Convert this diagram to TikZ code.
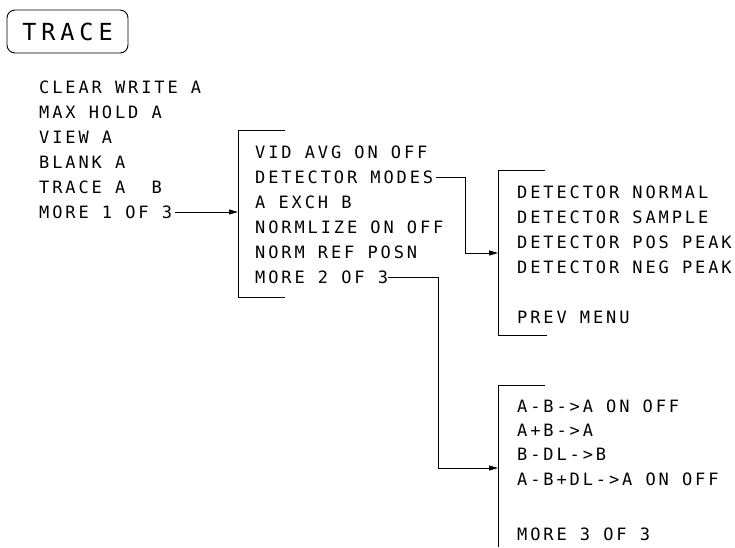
\documentclass[tikz,border=0pt]{standalone}
\usepackage{fontspec}
\usepackage{tikz}
\usetikzlibrary{arrows.meta,positioning,calc}
\newfontfamily\menufont[LetterSpace=17]{DejaVu Sans Mono}
\newfontfamily\keyfont[LetterSpace=21]{DejaVu Sans Mono}

\begin{document}
\begin{tikzpicture}[
    x=1pt, y=-1pt,
    key/.style={draw, line width=0.9pt, rounded corners=8pt, minimum width=121pt, minimum height=43pt, inner sep=0pt, font={\keyfont\fontsize{23.5pt}{23.5pt}\selectfont}},
    item/.style={anchor=west, inner sep=0pt, font={\menufont\fontsize{17pt}{17pt}\selectfont}},
    bracket/.style={line width=0.9pt},
    arrow/.style={->, line width=0.9pt, >={Stealth[length=9pt,width=5pt,inset=0pt]}}
]
\useasboundingbox (0,0) rectangle (735,547);

% Trace key
\node[key] (trace) at (67.5,31.5) {TRACE};

% Menu 1
\node[item] (clearw)  at (39,87)  {CLEAR WRITE A};
\node[item] (maxhold) at (39,112) {MAX HOLD A};
\node[item] (viewa)   at (39,137) {VIEW A};
\node[item] (blanka)  at (39,162) {BLANK A};
\node[item] (tracab)  at (39,187) {TRACE A\ \ B};
\node[item] (more1)   at (39,212) {MORE 1 OF 3};

% Menu 2
\coordinate (b1t) at (238,130);
\coordinate (b1b) at (238,297);
\node[item] (vidavg)   at (255,152) {VID AVG ON OFF};
\node[item] (detmodes) at (255,177) {DETECTOR MODES};
\node[item] (aexchb)   at (255,202) {A EXCH B};
\node[item] (normlz)   at (255,227) {NORMLIZE ON OFF};
\node[item] (normref)  at (255,252) {NORM REF POSN};
\node[item] (more2)    at (255,277) {MORE 2 OF 3};

% Menu 3 (detector)
\coordinate (b3t) at (498,170);
\coordinate (b3b) at (498,335);
\node[item] (detnorm)  at (517,192) {DETECTOR NORMAL};
\node[item] (detsamp)  at (517,217) {DETECTOR SAMPLE};
\node[item] (detpos)   at (517,242) {DETECTOR POS PEAK};
\node[item] (detneg)   at (517,267) {DETECTOR NEG PEAK};
\node[item] (prevmenu) at (517,317) {PREV MENU};

% Menu 4
\coordinate (b4t) at (498,385);
\coordinate (b4b) at (498,547);
\node[item] (amba)  at (517,406) {A-B->A ON OFF};
\node[item] (apba)  at (517,430) {A+B->A};
\node[item] (bdlb)  at (517,454) {B-DL->B};
\node[item] (abdla) at (517,479) {A-B+DL->A ON OFF};
\node[item] (more3) at (517,534) {MORE 3 OF 3};

% Brackets
\draw[bracket] ([xshift=47pt]b1t) -- (b1t) -- (b1b) -- ++(47,0);
\draw[bracket] ([xshift=47pt]b3t) -- (b3t) -- (b3b) -- ++(49,0);
\draw[bracket] ([xshift=47pt]b4t) -- (b4t) -- (b4b);

% Links between menus
\coordinate (j1) at (465,253);
\coordinate (j2) at (438,468);
\draw[arrow] ([xshift=3pt]more1.east) -- (b1t |- more1.east);
\draw[arrow] ([xshift=3pt]detmodes.east) -| (j1) -- (b3t |- j1);
\draw[arrow] ([xshift=0pt]more2.east) -| (j2) -- (b4t |- j2);

\end{tikzpicture}
\end{document}
